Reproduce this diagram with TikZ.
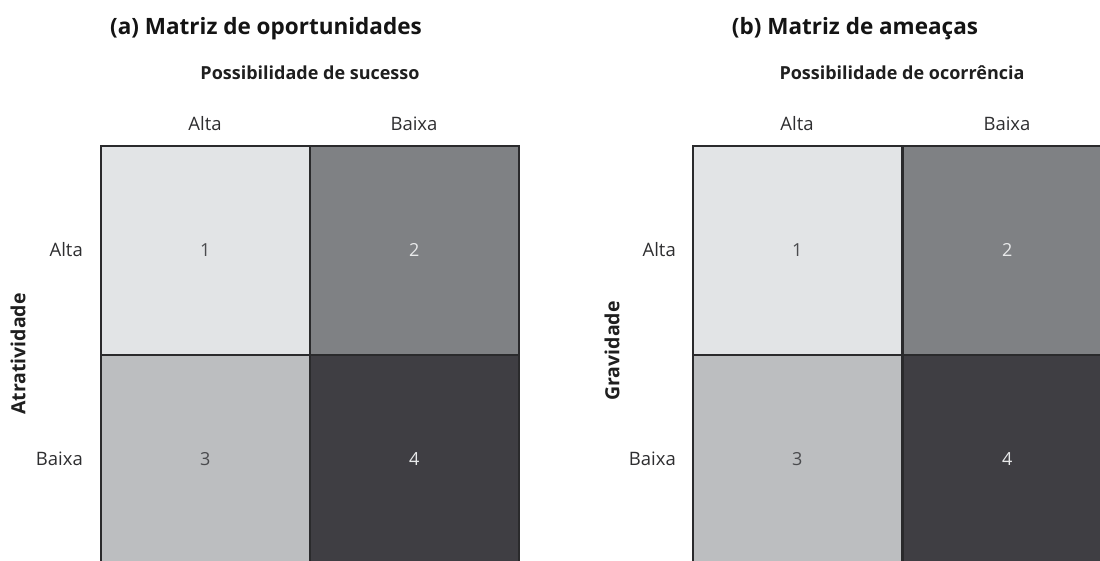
\documentclass[tikz,border=0pt]{standalone}
\usepackage{fontspec}
\setmainfont{Open Sans}
\definecolor{cA}{HTML}{E2E4E6}
\definecolor{cB}{HTML}{7F8184}
\definecolor{cC}{HTML}{BCBEC0}
\definecolor{cD}{HTML}{3F3E43}
\definecolor{edge}{HTML}{2A2A2C}
\definecolor{txt}{HTML}{2E2E30}
\definecolor{numdark}{HTML}{4A4B4E}
\definecolor{numlight}{HTML}{E8E9EA}
\tikzset{
  cell/.style={draw=edge, line width=1.6pt, minimum width=209pt, minimum height=209pt, inner sep=0pt, anchor=north west, font=\fontsize{18}{22}\selectfont},
  title/.style={font=\fontsize{22.5}{27}\selectfont\bfseries, text=black!92, inner sep=0pt},
  axis/.style={font=\fontsize{18}{22}\selectfont\bfseries, text=black!88, inner sep=0pt},
  vaxis/.style={font=\fontsize{19.5}{23}\selectfont\bfseries, text=black!88, inner sep=0pt, rotate=90},
  lbl/.style={font=\fontsize{18.5}{22}\selectfont, text=txt, inner sep=0pt},
}
\begin{document}
\begin{tikzpicture}[x=1pt,y=-1pt]
\useasboundingbox (0,0) rectangle (1100,561);
\clip (0,0) rectangle (1100,561);
% (a)
\node[title] (ta) at (266,29) {(a) Matriz de oportunidades};
\node[axis] (pa) at (310,73) {Possibilidade de sucesso};
\node[lbl] (ha1) at (205,124) {Alta};
\node[lbl] (ha2) at (414,124) {Baixa};
\node[cell, fill=cA, text=numdark] (a1) at (100,145) {1};
\node[cell, fill=cB, text=numlight] (a2) at (309,145) {2};
\node[cell, fill=cC, text=numdark] (a3) at (100,354) {3};
\node[cell, fill=cD, text=numlight] (a4) at (309,354) {4};
\node[lbl, anchor=east] (ra1) at (83,250) {Alta};
\node[lbl, anchor=east] (ra2) at (83,459) {Baixa};
\node[vaxis] (va) at (18,354) {Atratividade};
% (b)
\node[title] (tb) at (855,29) {(b) Matriz de ameaças};
\node[axis] (pb) at (902,73) {Possibilidade de ocorrência};
\node[lbl] (hb1) at (797,124) {Alta};
\node[lbl] (hb2) at (1007,124) {Baixa};
\node[cell, fill=cA, text=numdark] (b1) at (692,145) {1};
\node[cell, fill=cB, text=numlight] (b2) at (902,145) {2};
\node[cell, fill=cC, text=numdark] (b3) at (692,354) {3};
\node[cell, fill=cD, text=numlight] (b4) at (902,354) {4};
\node[lbl, anchor=east] (rb1) at (676,250) {Alta};
\node[lbl, anchor=east] (rb2) at (676,459) {Baixa};
\node[vaxis] (vb) at (612,351) {Gravidade};
\end{tikzpicture}
\end{document}
